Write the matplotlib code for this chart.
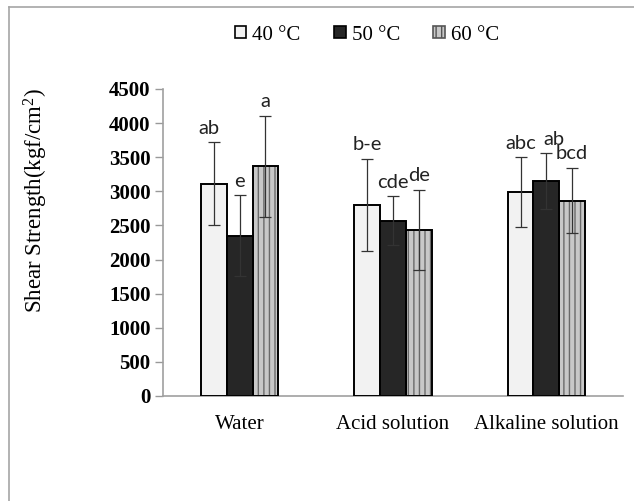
import numpy as np
from matplotlib import pyplot as plt
from matplotlib.patches import Patch
from matplotlib.lines import Line2D

# data
solutions = ['Water', 'Acid solution', 'Alkaline solution']
temps = ['40 °C', '50 °C', '60 °C']
strength_40 = [3110, 2800, 2985]
strength_50 = [2350, 2570, 3150]
strength_60 = [3365, 2435, 2865]
err_40 = [610, 680, 515]
err_50 = [590, 355, 410]
err_60 = [740, 590, 480]
letters_40 = ['ab', 'b-e', 'abc']
letters_50 = ['e', 'cde', 'ab']
letters_60 = ['a', 'de', 'bcd']

SERIF = 'Liberation Serif'
SANS = 'Lato'
plt.rcParams['mathtext.fontset'] = 'custom'
plt.rcParams['mathtext.rm'] = SERIF
plt.rcParams['mathtext.it'] = SERIF + ':italic'

fig = plt.figure(figsize=(6.34, 5.01), dpi=100)
ax = fig.add_axes([0.2571, 0.2096, 0.7256, 0.6128])

x = np.arange(len(solutions))
w = 0.168
offs = [-w, 0, w]
vals = [strength_40, strength_50, strength_60]
errs = [err_40, err_50, err_60]
labs = [letters_40, letters_50, letters_60]
lab_dx = [[-0.03, 0, 0], [0, 0, 0], [0, 0.05, 0]]
faces = ['#F2F2F2', '#262626', '#C8C8C8']

for i in range(3):
    xs = x + offs[i]
    if i == 2:
        ax.bar(xs, vals[i], w, color=faces[i], edgecolor='#6A6A6A', hatch='|||', linewidth=0, zorder=2)
        ax.bar(xs, vals[i], w, fill=False, edgecolor='black', linewidth=1.4, zorder=3)
    else:
        ax.bar(xs, vals[i], w, color=faces[i], edgecolor='black', linewidth=1.4, zorder=3)
    ax.errorbar(xs, vals[i], yerr=errs[i], fmt='none', ecolor='#333333', elinewidth=0.9,
                capsize=4, capthick=0.9, zorder=4)
    for j in range(3):
        ax.text(xs[j] + lab_dx[j][i], vals[i][j] + errs[i][j] + 80, labs[i][j],
                ha='center', va='bottom', fontsize=14.5, family=SANS, color='#222222')

ax.set_xlim(-0.5, 2.5)
ax.set_ylim(0, 4500)
ax.set_yticks(range(0, 4501, 500))
ax.set_xticks(x)
ax.set_xticklabels(solutions, fontsize=15, family=SERIF)
for t in ax.get_yticklabels():
    t.set_fontsize(15)
    t.set_family(SERIF)
    t.set_fontweight('bold')
ax.tick_params(axis='x', length=0, pad=14)
ax.tick_params(axis='y', length=6, color='#999999', width=1, pad=3)
for s in ['top', 'right']:
    ax.spines[s].set_visible(False)
for s in ['left', 'bottom']:
    ax.spines[s].set_color('#A0A0A0')
    ax.spines[s].set_linewidth(1.2)

ax.set_ylabel('Shear Strength(kgf/cm$^\\mathregular{2}$)', fontsize=16.5, family=SERIF)
ax.yaxis.set_label_coords(-0.246, 0.638)

handles = [Patch(facecolor=faces[0], edgecolor='black', linewidth=1.2),
           Patch(facecolor='#262626', edgecolor='black', linewidth=1.2),
           Patch(facecolor='#C8C8C8', edgecolor='#555555', hatch='|||', linewidth=1.2)]
fig.legend(handles, temps, loc='center', bbox_to_anchor=(367 / 634, 1 - 35 / 501), ncol=3,
           frameon=False, prop={'family': SERIF, 'size': 15}, handlelength=0.55,
           handleheight=0.55, handletextpad=0.3, columnspacing=1.6)

# grey frame visible along the left and top edges
fig.add_artist(Line2D([8.5 / 634, 8.5 / 634], [0, 1 - 6.5 / 501], color='#A6A6A6', lw=1.2))
fig.add_artist(Line2D([8.5 / 634, 1], [1 - 6.5 / 501, 1 - 6.5 / 501], color='#A6A6A6', lw=1.2))

fig.savefig('out.png', dpi=100)
